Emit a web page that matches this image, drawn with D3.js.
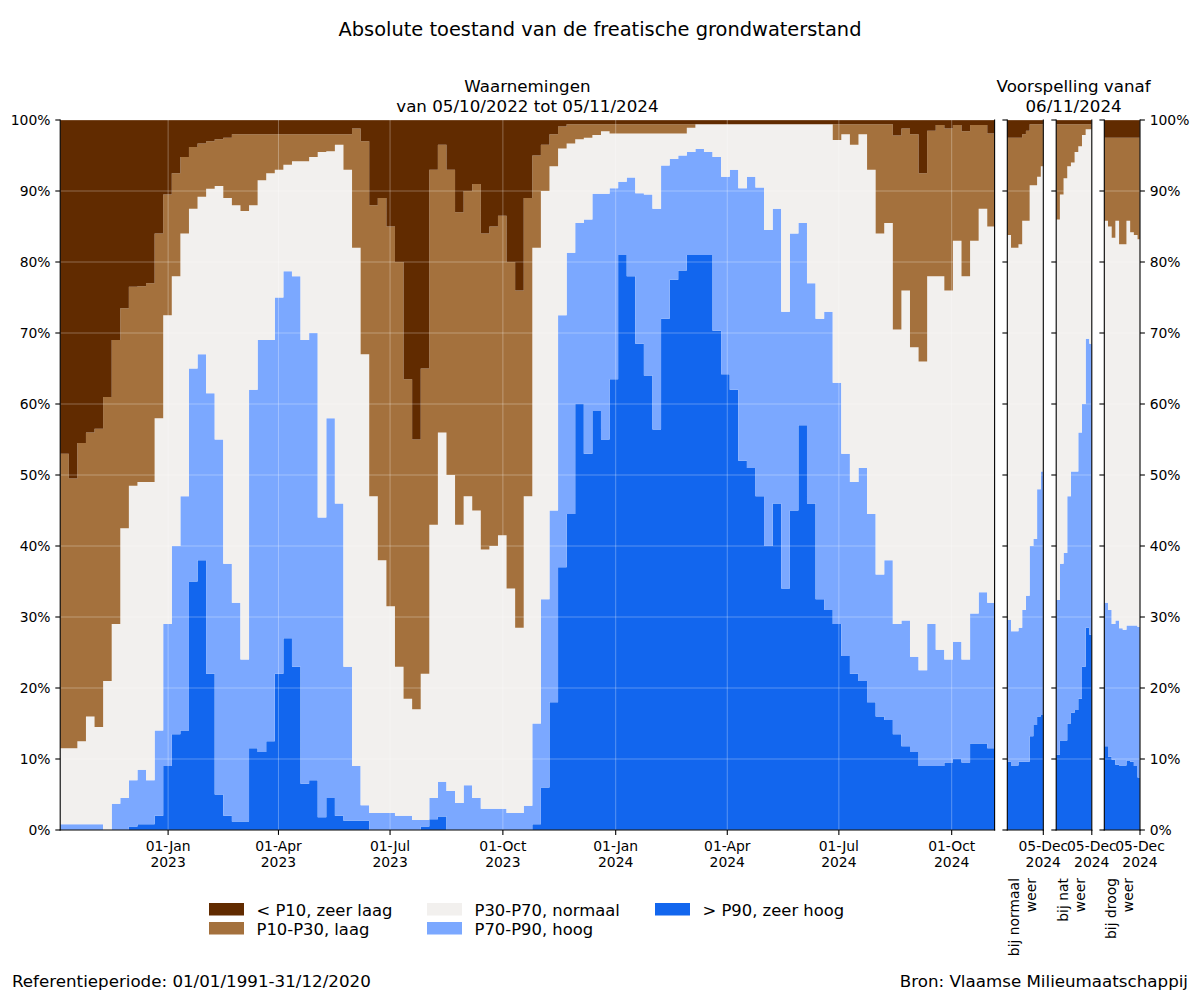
<!DOCTYPE html>
<html><head><meta charset="utf-8">
<script src="https://cdn.jsdelivr.net/npm/d3@7"></script>
<style>body{margin:0;background:#fff} svg{display:block} text{font-family:"DejaVu Sans",sans-serif;fill:#000}</style>
</head><body><svg id="c" width="1200" height="1000"></svg>
<script>
// ---------- DATA ----------
// Observations: one value per week starting at obsStart (cumulative % of stations)
const obsStart = "2022-10-05", obsEnd = "2024-11-05", obsStepDays = 7;
const aboveP90 = [0,0,0,0,0,0,0,0,0.5,0.8,0.8,2,9,13.5,14,35,38,22,5,2,1.2,1.2,11.5,11,12.5,22,27,23,
  6.5,7,1.8,4.5,2,1.3,1.3,1.3,0,0,0,0,0,0,0.5,1.5,1.9,0,0,0,0,0,0,0,0,0,0,
  0.8,6,18,37,44.5,60,53,59,55,63.5,81,78,68.5,64,56.4,72,77.5,78.8,81,81,81,70.3,64.2,62,52,51,47,
  40,46,34,45,57,46,32.5,31,29,24.5,22,21,18,16,15.5,13.5,11.8,11,9,9,9,9.5,10,9.5,12.2,12.2,11.5];
const aboveP70 = [0.8,0.8,0.8,0.8,0.8,0,3.7,4.5,7,8.5,7,14,29,40,47,65,67,61.5,55,37.5,32,24,62,69,69,75,78.7,78,
  69,70,44,58,46,23,9,3.5,2.4,2.4,2.4,2,2,1.4,1.4,4.5,6.8,5.5,3.8,6.3,4.5,3,3,3,2.4,2.4,3.4,
  15,32.5,45,72.5,81.3,85.5,86,89.6,89.6,90.4,91.3,91.9,89.7,89.5,87.5,93.6,94.5,95,95.5,95.9,95.5,94.8,92,93,90.4,92,90.5,
  84.5,87.5,73,84,85.5,77,72,73,63,53,49,51,44.5,36,38,29,29.5,24.4,22.5,29,25.4,24,26.5,24,30.5,33.5,32];
const aboveP30 = [11.5,11.5,12.5,16,14.5,21,29,42.5,48.5,49,49,58,72.5,78,84,87.5,89.2,90.3,90.7,89,88,87.2,88,91.5,92.5,93,93.7,94.2,
  94.2,94.8,95.5,95.6,96.5,93,82,67,47,38,31.5,23,18.5,17,22,43,56,50,43,47,45,39.5,40,41.5,34,28.5,47,
  82,90,93.5,96,96.7,97.3,97.5,97.9,98.4,98.1,98.1,98.1,98.1,98.1,98.1,98.1,98.1,98.1,98.9,99.4,99.4,99.4,99.4,99.4,99.4,99.4,99.4,
  99.4,99.4,99.4,99.4,99.4,99.4,99.4,99.4,97.2,98,96.5,98,93,84,85.5,70.5,76,68,66,78,78,76,83,78,83,87.5,85];
const aboveP10 = [53,49.5,54.5,56,56.5,61,69,73.5,76.5,76.6,77,84,89.5,92.5,94.8,96.2,96.7,97,97.3,97.5,98,98,98,98,98,98,98,98,
  98,98,98,98,98,98,98.8,97,88,89,85,80,63.5,55,65,93,96.5,93,87,90,91,84,85,86.5,80,76,89,
  95,96.5,98,99.1,99.4,99.4,99.4,99.4,99.4,99.4,99.4,99.4,99.4,99.4,99.4,99.4,99.4,99.4,99.4,99.4,99.4,99.4,99.4,99.4,99.4,99.4,99.4,
  99.4,99.4,99.4,99.4,99.4,99.4,99.4,99.4,99.4,99.4,99.4,99.4,99.4,99.4,99.4,97.8,98.8,98,92.5,98.5,99.3,98.8,99.3,98.4,99.3,99.3,98.1];

// Forecasts from fcStart, one value per 3 days
const fcStart = "2024-11-06", fcEnd = "2024-12-05", fcStepDays = 3;
const fcLabels = [["bij normaal","weer"],["bij nat","weer"],["bij droog","weer"]];
const fcNormaalP90 = [9.6,9.1,9.1,9.6,9.6,9.6,13.2,14.8,16,16.2];
const fcNormaalP70 = [29.6,28,28,28.5,31,33,40,41,48,50.5];
const fcNormaalP30 = [83.8,82,82,82.5,85.8,85.8,90.8,90.8,92,93.5];
const fcNormaalP10 = [97.5,97.5,97.5,97.5,98,98.5,99.4,99.4,99.4,99.4];
const fcNatP90 = [10.6,12.6,12.6,15,16.5,16.9,18.5,23,28.5,27.5];
const fcNatP70 = [32.4,37.5,39,47,50.5,50.5,56,60,69.2,68.5];
const fcNatP30 = [86,89.5,91.8,93.5,94,95.5,96.3,97.9,98.7,98.7];
const fcNatP10 = [99.4,99.4,99.4,99.4,99.4,99.4,99.4,99.4,99.4,99.4];
const fcDroogP90 = [11.8,10.3,9.9,9.2,9.1,9.1,9.8,9.6,9.0,7.4];
const fcDroogP70 = [32,31,29,29.5,28.4,28.2,28.8,28.8,28.8,28.6];
const fcDroogP30 = [85.8,85,83.4,85.8,82.5,82.5,85.8,84.2,83.8,83.2];
const fcDroogP10 = [97.5,97.5,97.5,97.5,97.5,97.5,97.5,97.5,97.5,97.5];

const classNames = ["> P90, zeer hoog","P70-P90, hoog","P30-P70, normaal","P10-P30, laag","< P10, zeer laag"];
const classColors = ["#1266ee","#7ba8ff","#f2f0ee","#a4713d","#612b00"];
const yTicks = [0,10,20,30,40,50,60,70,80,90,100];

// ---------- DRAW ----------
const svg = d3.select("#c");
const parse = d3.utcParse("%Y-%m-%d");
const TOP = 120, BOT = 830;
const y = d3.scaleLinear().domain([0,100]).range([BOT, TOP]);
const FS = 13.9;

function drawPanel(x0, x1, start, end, step, p90, p70, p30, p10, tickVals, leftLabels, rightLabels) {
  const x = d3.scaleUtc().domain([parse(start), parse(end)]).range([x0, x1]);
  const n = p90.length;
  const dates = d3.range(n).map(i => d3.utcDay.offset(parse(start), i*step));
  const zeros = p90.map(() => 0), full = p90.map(() => 100);
  const bounds = [zeros, p90, p70, p30, p10, full];
  const g = svg.append("g");
  const area = d3.area().curve(d3.curveStepAfter).x(d => x(d.t)).y0(d => y(d.lo)).y1(d => y(d.hi));
  for (let k = 0; k < 5; k++) {
    const pts = dates.map((t,i) => ({t, lo: bounds[k][i], hi: bounds[k+1][i]}));
    pts.push({t: parse(end), lo: bounds[k][n-1], hi: bounds[k+1][n-1]});
    g.append("path").attr("d", area(pts)).attr("fill", classColors[k]).attr("stroke","none");
  }
  // grid
  yTicks.forEach(v => g.append("line").attr("x1",x0).attr("x2",x1).attr("y1",y(v)).attr("y2",y(v))
    .attr("stroke","#fff").attr("stroke-opacity",0.3).attr("stroke-width",1));
  tickVals.forEach(t => g.append("line").attr("x1",x(t)).attr("x2",x(t)).attr("y1",TOP).attr("y2",BOT)
    .attr("stroke","#fff").attr("stroke-opacity",0.3).attr("stroke-width",1));
  // spines
  const sp = [[x0,TOP,x0,BOT],[x1,TOP,x1,BOT],[x0,BOT,x1,BOT]];
  sp.forEach(s => g.append("line").attr("x1",s[0]).attr("y1",s[1]).attr("x2",s[2]).attr("y2",s[3])
    .attr("stroke","#000").attr("stroke-width",1.1).attr("stroke-linecap","square"));
  // y ticks
  yTicks.forEach(v => {
    g.append("line").attr("x1",x0-4.9).attr("x2",x0).attr("y1",y(v)).attr("y2",y(v)).attr("stroke","#000").attr("stroke-width",1.1);
    if (leftLabels) g.append("text").attr("x",x0-9.7).attr("y",y(v)).attr("dy","0.36em").attr("text-anchor","end")
      .style("font-size",FS+"px").text(v+"%");
    if (rightLabels) {
      g.append("line").attr("x1",x1).attr("x2",x1+4.9).attr("y1",y(v)).attr("y2",y(v)).attr("stroke","#000").attr("stroke-width",1.1);
      g.append("text").attr("x",x1+9.7).attr("y",y(v)).attr("dy","0.36em").attr("text-anchor","start")
        .style("font-size",FS+"px").text(v+"%");
    }
  });
  // x ticks
  const f1 = d3.utcFormat("%d-%b"), f2 = d3.utcFormat("%Y");
  tickVals.forEach(t => {
    g.append("line").attr("x1",x(t)).attr("x2",x(t)).attr("y1",BOT).attr("y2",BOT+4.9).attr("stroke","#000").attr("stroke-width",1.1);
    const tx = g.append("text").attr("text-anchor","middle").style("font-size",FS+"px");
    tx.append("tspan").attr("x",x(t)).attr("y",851).text(f1(t));
    tx.append("tspan").attr("x",x(t)).attr("y",867).text(f2(t));
  });
  return x;
}

const obsTicks = d3.utcMonth.every(3).range(parse(obsStart), parse(obsEnd));
drawPanel(60.2, 994.6, obsStart, obsEnd, obsStepDays, aboveP90, aboveP70, aboveP30, aboveP10, obsTicks, true, false);

const fcPanels = [
  {x0:1007.3, x1:1043.3, d:[fcNormaalP90,fcNormaalP70,fcNormaalP30,fcNormaalP10]},
  {x0:1056.2, x1:1091.8, d:[fcNatP90,fcNatP70,fcNatP30,fcNatP10]},
  {x0:1104.3, x1:1140.0, d:[fcDroogP90,fcDroogP70,fcDroogP30,fcDroogP10]}
];
fcPanels.forEach((p,i) => {
  drawPanel(p.x0, p.x1, fcStart, fcEnd, fcStepDays, p.d[0], p.d[1], p.d[2], p.d[3], [parse(fcEnd)], false, i===2);
  const cx = (p.x0+p.x1)/2;
  fcLabels[i].forEach((line,j) => {
    svg.append("text").attr("transform",`translate(${cx-6+j*17},878) rotate(-90)`).attr("text-anchor","end")
      .style("font-size",FS+"px").text(line);
  });
});

// titles
svg.append("text").attr("x",600).attr("y",36).attr("text-anchor","middle").style("font-size","19.4px")
  .text("Absolute toestand van de freatische grondwaterstand");
[["Waarnemingen","van 05/10/2022 tot 05/11/2024",527.4],["Voorspelling vanaf","06/11/2024",1073.6]].forEach(s => {
  svg.append("text").attr("x",s[2]).attr("y",92).attr("text-anchor","middle").style("font-size","16.7px").text(s[0]);
  svg.append("text").attr("x",s[2]).attr("y",112).attr("text-anchor","middle").style("font-size","16.7px").text(s[1]);
});

// legend (column-wise, reverse class order)
const legX = [209, 427, 655];
const legOrder = [4,3,2,1,0];
legOrder.forEach((k,i) => {
  const col = Math.floor(i/2), row = i%2;
  const ly = 903 + row*19;
  svg.append("rect").attr("x",legX[col]).attr("y",ly).attr("width",35).attr("height",12.5).attr("fill",classColors[k]);
  svg.append("text").attr("x",legX[col]+47.5).attr("y",ly+12.5).style("font-size","16.4px").text(classNames[k]);
});

// footer
svg.append("text").attr("x",12).attr("y",987).style("font-size","16.7px").text("Referentieperiode: 01/01/1991-31/12/2020");
svg.append("text").attr("x",1188).attr("y",987).attr("text-anchor","end").style("font-size","16.7px").text("Bron: Vlaamse Milieumaatschappij");
</script></body></html>
